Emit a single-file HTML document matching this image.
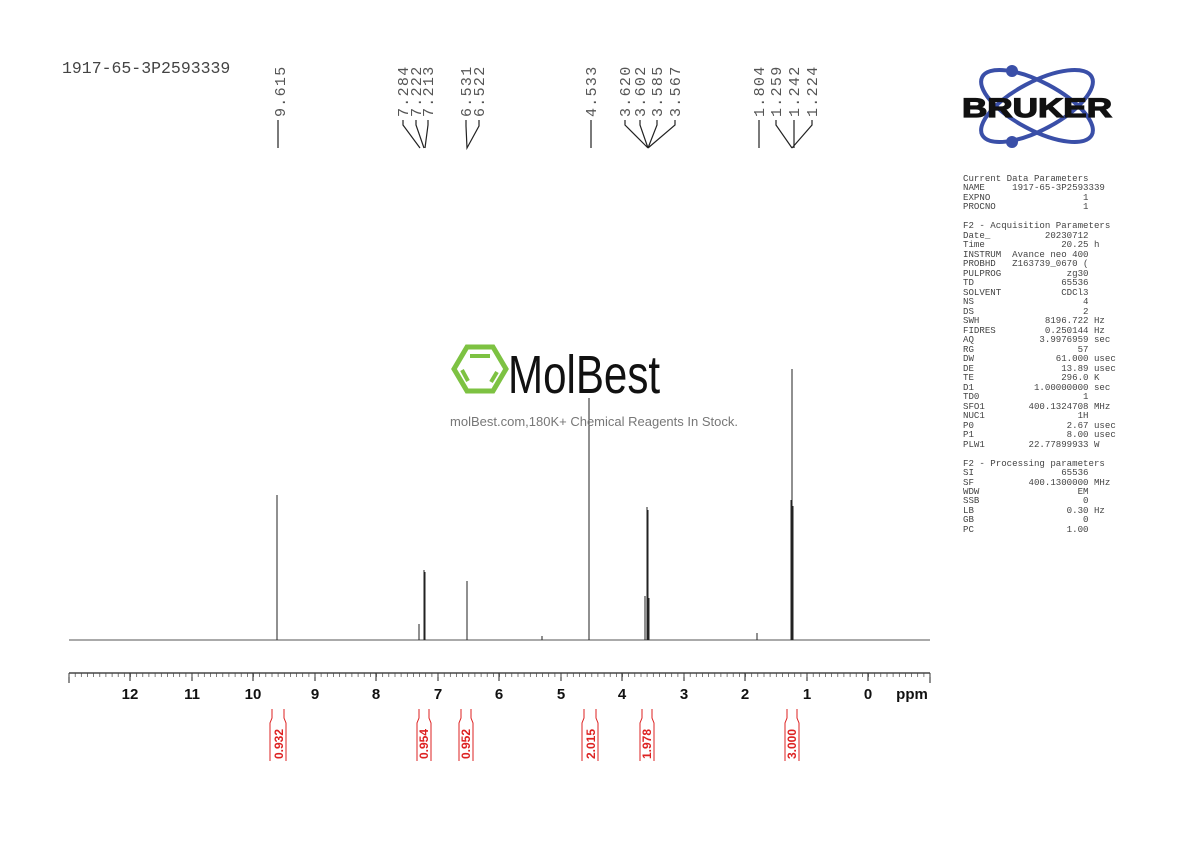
<!DOCTYPE html>
<html><head><meta charset="utf-8"><style>
html,body{margin:0;padding:0;background:#fff;width:1190px;height:842px;overflow:hidden}
pre{margin:0;position:absolute;left:963px;top:174px;font-family:"Liberation Mono",monospace;font-size:9.1px;line-height:9.49px;color:#444}
</style></head><body>
<svg width="1190" height="842" viewBox="0 0 1190 842" style="position:absolute;left:0;top:0" font-family="Liberation Mono, monospace">
<text x="62" y="73" font-size="16.5" fill="#444">1917-65-3P2593339</text>
<g font-size="15" fill="#555" letter-spacing="1.3">
<text transform="translate(285,117) rotate(-90)">9.615</text>
<text transform="translate(408,117) rotate(-90)">7.284</text>
<text transform="translate(421,117) rotate(-90)">7.222</text>
<text transform="translate(433,117) rotate(-90)">7.213</text>
<text transform="translate(471,117) rotate(-90)">6.531</text>
<text transform="translate(484,117) rotate(-90)">6.522</text>
<text transform="translate(596,117) rotate(-90)">4.533</text>
<text transform="translate(630,117) rotate(-90)">3.620</text>
<text transform="translate(645,117) rotate(-90)">3.602</text>
<text transform="translate(662,117) rotate(-90)">3.585</text>
<text transform="translate(680,117) rotate(-90)">3.567</text>
<text transform="translate(764,117) rotate(-90)">1.804</text>
<text transform="translate(781,117) rotate(-90)">1.259</text>
<text transform="translate(799,117) rotate(-90)">1.242</text>
<text transform="translate(817,117) rotate(-90)">1.224</text>
</g>
<g stroke="#222" stroke-width="1.2" fill="none">
<path d="M278,120V148"/>
<path d="M403,120V125L420,148M416,120V125L424,148M428,120V125L425,148"/>
<path d="M466,120V126L467,148L479,126V120"/>
<path d="M591,120V148"/>
<path d="M625,120V125L648,148M640,120V125L648,148M657,120V125L648,148M675,120V125L648,148"/>
<path d="M759,120V148"/>
<path d="M776,120V125L792,148M794,120V148M812,120V125L792,148"/>
</g>
<!-- spectrum -->
<line x1="69" y1="640" x2="930" y2="640" stroke="#555" stroke-width="1"/>
<g stroke="#222" stroke-width="1">
<path d="M277,640V495"/>
<path d="M419,640V624"/>
<path d="M424,640V570M425,640V572"/>
<path d="M467,640V581"/>
<path d="M589,640V398"/>
<path d="M645,640V596M647,640V507M648,640V510M649,640V598"/>
<path d="M757,640V633"/>
<path d="M791,640V500M792,640V369M793,640V506"/>
<path d="M542,640V636"/>
</g>
<!-- watermark -->
<polygon points="467,347 493,347 506,369 493,391 467,391 454,369" fill="none" stroke="#7dc242" stroke-width="5"/>
<path d="M470,356H490M462,370L468,381M497,372L491,382" stroke="#7dc242" stroke-width="4"/>
<text x="0" y="0" font-family="Liberation Sans, sans-serif" font-size="54" fill="#111" transform="translate(508,393) scale(0.78,1)">MolBest</text>
<text x="594" y="426" text-anchor="middle" font-family="Liberation Sans, sans-serif" font-size="13" fill="#777">molBest.com,180K+ Chemical Reagents In Stock.</text>
<!-- axis -->
<line x1="69" y1="673" x2="930" y2="673" stroke="#222" stroke-width="1.2"/>
<g stroke="#222" stroke-width="1">
<path d="M69,673v10M130,673v8M192,673v8M253,673v8M315,673v8M376,673v8M438,673v8M499,673v8M561,673v8M622,673v8M684,673v8M745,673v8M807,673v8M868,673v8M930,673v10"/>
</g>
<g stroke="#444" stroke-width="0.7" id="minor"></g>
<g font-family="Liberation Sans, sans-serif" font-weight="bold" font-size="15" fill="#111" text-anchor="middle">
<text x="130" y="699">12</text><text x="192" y="699">11</text><text x="253" y="699">10</text><text x="315" y="699">9</text><text x="376" y="699">8</text><text x="438" y="699">7</text><text x="499" y="699">6</text><text x="561" y="699">5</text><text x="622" y="699">4</text><text x="684" y="699">3</text><text x="745" y="699">2</text><text x="807" y="699">1</text><text x="868" y="699">0</text><text x="912" y="699">ppm</text>
</g>
<!-- integrals -->
<g stroke="#d22" stroke-width="1" fill="none">
<path d="M272,709v9l-2,5v38M284,709v9l2,5v38"/>
<path d="M419,709v9l-2,5v38M429,709v9l2,5v38"/>
<path d="M461,709v9l-2,5v38M471,709v9l2,5v38"/>
<path d="M584,709v9l-2,5v38M596,709v9l2,5v38"/>
<path d="M642,709v9l-2,5v38M652,709v9l2,5v38"/>
<path d="M787,709v9l-2,5v38M797,709v9l2,5v38"/>
</g>
<g font-family="Liberation Sans, sans-serif" font-weight="bold" font-size="12" fill="#d22">
<text transform="translate(283,759) rotate(-90)">0.932</text>
<text transform="translate(428,759) rotate(-90)">0.954</text>
<text transform="translate(470,759) rotate(-90)">0.952</text>
<text transform="translate(595,759) rotate(-90)">2.015</text>
<text transform="translate(651,759) rotate(-90)">1.978</text>
<text transform="translate(796,759) rotate(-90)">3.000</text>
</g>
<!-- Bruker logo -->
<g fill="none" stroke="#3a4fa8" stroke-width="4">
<ellipse cx="1037" cy="106" rx="62" ry="24" transform="rotate(28 1037 106)"/>
<ellipse cx="1037" cy="106" rx="62" ry="24" transform="rotate(-28 1037 106)"/>
</g>
<circle cx="1012" cy="71" r="6" fill="#3a4fa8"/>
<circle cx="1012" cy="142" r="6" fill="#3a4fa8"/>
<rect x="956" y="93" width="162" height="27" fill="#fff" opacity="0.0"/>
<text x="0" y="0" text-anchor="middle" font-family="Liberation Sans, sans-serif" font-weight="bold" font-size="27" fill="#111" stroke="#111" stroke-width="1.2" transform="translate(1037,117) scale(1.3,1)">BRUKER</text>
</svg>
<script>
var g=document.getElementById('minor'),s='';
for(var i=0;i<=140;i++){var x=69+i*6.15;s+='M'+x.toFixed(1)+',673v4';}
var p=document.createElementNS('http://www.w3.org/2000/svg','path');p.setAttribute('d',s);g.appendChild(p);
</script>
<pre>Current Data Parameters
NAME     1917-65-3P2593339
EXPNO                 1
PROCNO                1

F2 - Acquisition Parameters
Date_          20230712
Time              20.25 h
INSTRUM  Avance neo 400
PROBHD   Z163739_0670 (
PULPROG            zg30
TD                65536
SOLVENT           CDCl3
NS                    4
DS                    2
SWH            8196.722 Hz
FIDRES         0.250144 Hz
AQ            3.9976959 sec
RG                   57
DW               61.000 usec
DE                13.89 usec
TE                296.0 K
D1           1.00000000 sec
TD0                   1
SFO1        400.1324708 MHz
NUC1                 1H
P0                 2.67 usec
P1                 8.00 usec
PLW1        22.77899933 W

F2 - Processing parameters
SI                65536
SF          400.1300000 MHz
WDW                  EM
SSB                   0
LB                 0.30 Hz
GB                    0
PC                 1.00</pre>
</body></html>
